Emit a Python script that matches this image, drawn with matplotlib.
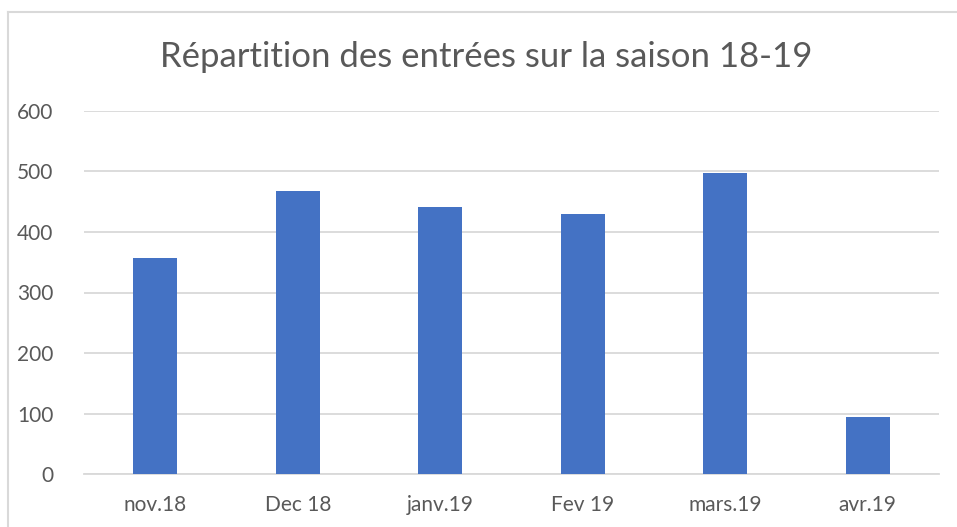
import matplotlib
matplotlib.use("Agg")
import matplotlib.pyplot as plt
from matplotlib.lines import Line2D

categories = ["nov.18", "Dec 18", "janv.19", "Fev 19", "mars.19", "avr.19"]
values = [357, 468, 441, 430, 498, 94]
yticks = [0, 100, 200, 300, 400, 500, 600]
title = "Répartition des entrées sur la saison 18-19"

plt.rcParams['font.family'] = ['Lato', 'DejaVu Sans']
W, H = 957, 527
fig = plt.figure(figsize=(W / 100, H / 100), dpi=100)
ax = fig.add_axes([84 / W, 1 - 474 / H, (939 - 84) / W, (474 - 111) / H])

x = range(len(categories))
ax.bar(x, values, width=0.31, color="#4472C4", zorder=3)
ax.set_xlim(-0.5, len(categories) - 0.5)
ax.set_ylim(0, 600)
ax.set_yticks(yticks)
ax.set_yticklabels([str(v) for v in yticks])
ax.set_xticks(list(x))
ax.set_xticklabels(categories)
ax.yaxis.grid(True, color="#D9D9D9", linewidth=1.3, zorder=0)
ax.set_axisbelow(True)
for s in ["top", "right", "left"]:
    ax.spines[s].set_visible(False)
ax.spines["bottom"].set_color("#D9D9D9")
ax.spines["bottom"].set_linewidth(1.3)
ax.tick_params(axis="both", length=0, labelsize=15, labelcolor="#595959")
ax.tick_params(axis="y", pad=22)
ax.tick_params(axis="x", pad=15)

fig.text(0.5 * (165 + 808) / W, 1 - 57 / H, title, ha="center", va="center",
         fontsize=25, color="#595959")

# chart border (partially cropped)
fig.add_artist(Line2D([8 / W, 8 / W], [0, 1 - 12 / H], transform=fig.transFigure,
                      color="#D9D9D9", linewidth=1.5))
fig.add_artist(Line2D([8 / W, 1], [1 - 12 / H, 1 - 12 / H], transform=fig.transFigure,
                      color="#D9D9D9", linewidth=1.5))

fig.savefig("out.png", dpi=100)
